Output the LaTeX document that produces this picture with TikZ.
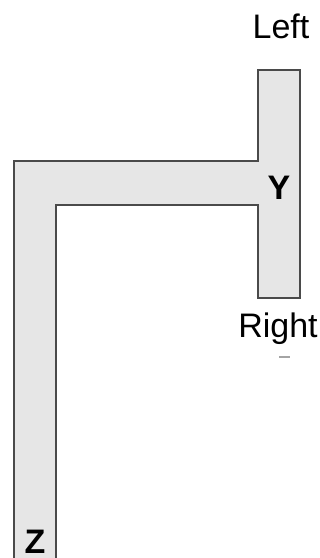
\documentclass[tikz,border=0pt]{standalone}
\usepackage{fontspec}
\setmainfont{Liberation Sans}
\usepackage{xcolor}
\usetikzlibrary{positioning}
\definecolor{pipefill}{HTML}{E6E6E6}
\definecolor{pipeedge}{HTML}{4A4A4A}

\begin{document}
\begin{tikzpicture}[x=0.5pt, y=-0.5pt,
  every node/.style={inner sep=0pt, anchor=base},
  endlabel/.style={font=\fontsize{17}{20}\selectfont},
  jointlabel/.style={font=\fontsize{17}{20}\selectfont\bfseries},
  pipe/.style={draw=pipeedge, line width=1.1pt, line join=miter}]
  \useasboundingbox (0,0) rectangle (320,558);
  % body of the pipe (open at the bottom)
  \fill[pipefill] (14,558) -- (14,161) -- (258,161) -- (258,70) -- (300,70)
    -- (300,298) -- (258,298) -- (258,205) -- (56,205) -- (56,558) -- cycle;
  \draw[pipe] (14,558) -- (14,161) -- (258,161) -- (258,70) -- (300,70)
    -- (300,298) -- (258,298) -- (258,205) -- (56,205) -- (56,558);
  % labels
  \node[endlabel] (left) at (281,38) {Left};
  \node[endlabel] (right) at (278,337) {Right};
  \node[jointlabel] (y) at (279,199) {Y};
  \node[jointlabel] (z) at (35,553) {Z};
  \draw[pipeedge!50, line width=0.8pt] (279,357) -- (290,357);
\end{tikzpicture}
\end{document}
